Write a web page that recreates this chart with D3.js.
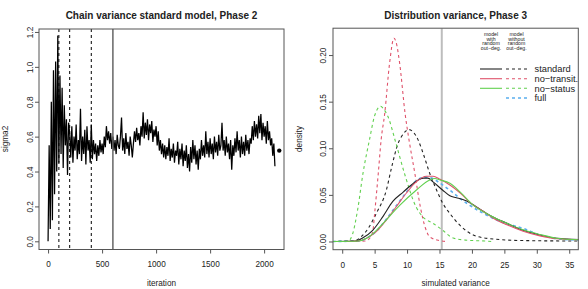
<!DOCTYPE html>
<html>
<head>
<meta charset="utf-8">
<script src="https://cdn.jsdelivr.net/npm/d3@7"></script>
<style>
  html, body { margin: 0; padding: 0; background: #fff; }
  svg { display: block; }
  text { font-family: "Liberation Sans", Arial, Helvetica, sans-serif; fill: #222; }
</style>
</head>
<body>
<svg id="chart" width="588" height="289"></svg>
<script>
// ---------------- DATA ----------------
// Left panel: chain of sigma2 values, one value every 10 iterations (0..2100)
const chainStep = 10;
const chainValues = [
  0.00, 0.55, 0.07, 0.80, 0.12, 0.98, 0.27, 1.03, 0.40, 1.18,
  0.45, 0.95, 0.50, 0.88, 0.42, 0.78, 0.55, 0.70, 0.38, 0.68,
  0.62, 0.48, 0.66, 0.45, 0.60, 0.52, 0.67, 0.47, 0.58, 0.50,
  0.76, 0.46, 0.60, 0.50, 0.64, 0.44, 0.66, 0.52, 0.58, 0.45,
  0.67, 0.47, 0.58, 0.50, 0.56, 0.46, 0.55, 0.49, 0.58, 0.51,
  0.56, 0.50, 0.60, 0.54, 0.66, 0.58, 0.63, 0.56, 0.62, 0.53,
  0.60, 0.52, 0.58, 0.50, 0.61, 0.55, 0.53, 0.60, 0.71, 0.52,
  0.59, 0.50, 0.62, 0.53, 0.57, 0.49, 0.60, 0.55, 0.48, 0.56,
  0.63, 0.57, 0.65, 0.58, 0.62, 0.55, 0.66, 0.60, 0.74, 0.59,
  0.68, 0.61, 0.70, 0.58, 0.67, 0.62, 0.69, 0.57, 0.64, 0.60,
  0.66, 0.55, 0.63, 0.52, 0.58, 0.50, 0.56, 0.48, 0.55, 0.47,
  0.54, 0.49, 0.59, 0.46, 0.53, 0.48, 0.56, 0.45, 0.52, 0.49,
  0.57, 0.44, 0.53, 0.47, 0.56, 0.43, 0.52, 0.46, 0.55, 0.42,
  0.50, 0.40, 0.54, 0.45, 0.58, 0.47, 0.55, 0.44, 0.52, 0.41,
  0.53, 0.47, 0.58, 0.49, 0.55, 0.48, 0.63, 0.50, 0.57, 0.48,
  0.59, 0.50, 0.56, 0.47, 0.60, 0.51, 0.57, 0.49, 0.61, 0.52,
  0.55, 0.68, 0.52, 0.58, 0.49, 0.60, 0.51, 0.56, 0.47, 0.58,
  0.41, 0.55, 0.49, 0.59, 0.51, 0.63, 0.52, 0.58, 0.48, 0.60,
  0.50, 0.57, 0.49, 0.61, 0.52, 0.58, 0.50, 0.59, 0.56, 0.66,
  0.58, 0.69, 0.60, 0.67, 0.59, 0.72, 0.62, 0.73, 0.58, 0.68,
  0.60, 0.66, 0.56, 0.69, 0.58, 0.63, 0.55, 0.59, 0.49, 0.56,
  0.43
];
const chainFinalPoint = [2140, 0.52];
const phaseDashedLines = [100, 200, 400];
const phaseSolidLine = 600;
const chainXTicks = [0, 500, 1000, 1500, 2000];
const chainYTicks = [0.0, 0.2, 0.4, 0.6, 0.8, 1.0, 1.2];

// Right panel: density curves [simulated variance, density]
const stdRandom = [[-1.5,0],[2,0.0005],[3.2,0.004],[4.7,0.012],[6.3,0.027],[7.8,0.043],[9.4,0.053],[10.9,0.062],[12.5,0.068],[13.2,0.068],[14.0,0.064],[15.5,0.055],[16.6,0.049],[17.6,0.047],[18.6,0.045],[19.2,0.0435],[20.7,0.037],[22.8,0.028],[25.4,0.0195],[27.9,0.012],[30.5,0.007],[33.1,0.0034],[36.5,0.0022]];
const noTransRandom = [[-1.5,0],[2.5,0.0005],[3.6,0.003],[5.25,0.0105],[6.8,0.023],[8.3,0.037],[9.9,0.052],[11.4,0.064],[13.0,0.070],[14.0,0.070],[15.1,0.0667],[16.6,0.0606],[18.2,0.052],[20.2,0.039],[21.8,0.032],[23.3,0.025],[25.4,0.018],[27.9,0.011],[30.5,0.006],[33.1,0.003],[36.5,0.002]];
const noStatusRandom = [[-1.5,0],[2.5,0.0005],[3.9,0.004],[5.0,0.010],[6.3,0.0195],[8.9,0.039],[11.4,0.055],[13.5,0.066],[14.3,0.0675],[15.1,0.066],[16.6,0.0624],[18.2,0.053],[20.2,0.039],[22.8,0.028],[25.4,0.0195],[27.9,0.0125],[30.5,0.0075],[33.1,0.0035],[36.5,0.0018]];
const stdFixed = [[-1.5,0],[2,0.001],[2.9,0.005],[4.0,0.014],[5.25,0.030],[6.8,0.055],[7.7,0.082],[8.6,0.105],[9.1,0.112],[10.3,0.120],[11.0,0.117],[11.7,0.109],[12.6,0.092],[13.5,0.073],[14.5,0.056],[15.5,0.041],[16.6,0.030],[18.2,0.017],[20.2,0.007],[22.8,0.003],[27.9,0.001],[36.5,0.0005]];
const noTransFixed = [[-1.5,0],[3.5,0.0005],[4.3,0.004],[4.74,0.012],[5.0,0.030],[5.56,0.073],[6.0,0.109],[6.55,0.137],[7.3,0.191],[7.98,0.218],[8.3,0.214],[8.86,0.191],[9.7,0.137],[10.3,0.109],[11.2,0.073],[12.05,0.037],[12.8,0.015],[13.5,0.005],[15.0,0.001],[16.0,0]];
const noStatusFixed = [[-1.5,0],[1.0,0.001],[1.6,0.008],[2.4,0.035],[3.2,0.073],[4.2,0.109],[5.0,0.135],[5.93,0.145],[6.4,0.142],[7.05,0.134],[8.3,0.105],[9.6,0.073],[11.4,0.037],[12.5,0.026],[14.0,0.0195],[15.5,0.012],[17.0,0.004],[19.0,0.0015],[22.0,0.0005],[23.0,0]];
const fullFixed = [[-1.5,0],[2.5,0.0005],[3.6,0.003],[5.25,0.011],[6.8,0.024],[8.3,0.038],[9.9,0.053],[11.4,0.065],[12.8,0.069],[13.8,0.068],[15.1,0.0624],[16.6,0.055],[18.2,0.046],[19.2,0.041],[21.8,0.030],[24.5,0.021],[27.9,0.014],[30.5,0.007],[33.1,0.003],[36.5,0.0015]];
const referenceValue = 15.35;
const densXTicks = [0, 5, 10, 15, 20, 25, 30, 35];
const densYTicks = [0.00, 0.05, 0.10, 0.15, 0.20];
const legendLabels = ["standard", "no\u2212transit.", "no\u2212status", "full"];
const legendHeaders = [["model","with","random","out\u2212deg."], ["model","without","random","out\u2212deg."]];

// ---------------- STYLE ----------------
const colBlack = "#222222", colRed = "#DF536B", colGreen = "#61D04F", colBlue = "#5aaeee";
const svg = d3.select("#chart");

function panel(box, xDomain, yDomain) {
  const x = d3.scaleLinear().domain(xDomain).range([box.x0, box.x1]);
  const y = d3.scaleLinear().domain(yDomain).range([box.y1, box.y0]);
  return {x, y};
}

// ---------------- LEFT PANEL ----------------
const L = {x0: 39, x1: 284, y0: 29, y1: 249.5};
const Ls = panel(L, [-84, 2184], [-0.047, 1.217]);

const gL = svg.append("g");
gL.append("path")
  .datum(chainValues)
  .attr("fill", "none").attr("stroke", "#000").attr("stroke-width", 1.25)
  .attr("stroke-linejoin", "miter")
  .attr("d", d3.line().x((d, i) => Ls.x(i * chainStep)).y(d => Ls.y(d)));

gL.selectAll("line.dash").data(phaseDashedLines).join("line")
  .attr("x1", d => Ls.x(d)).attr("x2", d => Ls.x(d))
  .attr("y1", L.y0).attr("y2", L.y1)
  .attr("stroke", "#000").attr("stroke-width", 1).attr("stroke-dasharray", "3,3");
gL.append("line")
  .attr("x1", Ls.x(phaseSolidLine)).attr("x2", Ls.x(phaseSolidLine))
  .attr("y1", L.y0).attr("y2", L.y1)
  .attr("stroke", "#666").attr("stroke-width", 1.5);
gL.append("circle")
  .attr("cx", Ls.x(chainFinalPoint[0])).attr("cy", Ls.y(chainFinalPoint[1]))
  .attr("r", 2.2).attr("fill", "#000");

// ---------------- RIGHT PANEL ----------------
const R = {x0: 333, x1: 578.3, y0: 28.2, y1: 249.7};
const Rs = panel(R, [-1.42, 36.4], [-0.0088, 0.2288]);

svg.append("defs").append("clipPath").attr("id", "clipR")
  .append("rect").attr("x", R.x0).attr("y", R.y0).attr("width", R.x1 - R.x0).attr("height", R.y1 - R.y0);

const gR = svg.append("g").attr("clip-path", "url(#clipR)");
const dline = d3.line().x(d => Rs.x(d[0])).y(d => Rs.y(d[1])).curve(d3.curveMonotoneX);

gR.append("line")
  .attr("x1", Rs.x(referenceValue)).attr("x2", Rs.x(referenceValue))
  .attr("y1", R.y0).attr("y2", R.y1)
  .attr("stroke", "#bdbdbd").attr("stroke-width", 2);

const curves = [
  {data: stdFixed, color: colBlack, dash: "3,3", w: 1.1},
  {data: noTransFixed, color: colRed, dash: "3,3", w: 1.1},
  {data: noStatusFixed, color: colGreen, dash: "3,3", w: 1.1},
  {data: fullFixed, color: colBlue, dash: "3,3", w: 1.6},
  {data: stdRandom, color: colBlack, dash: null, w: 1.1},
  {data: noTransRandom, color: colRed, dash: null, w: 1.1},
  {data: noStatusRandom, color: colGreen, dash: null, w: 1.1}
];
gR.selectAll("path.curve").data(curves).join("path")
  .attr("class", "curve")
  .attr("fill", "none")
  .attr("stroke", d => d.color)
  .attr("stroke-width", d => d.w)
  .attr("stroke-dasharray", d => d.dash)
  .attr("d", d => dline(d.data));

// Legend
const legendRowY = [69, 78.7, 88.3, 98];
const legendColors = [colBlack, colRed, colGreen, colBlue];
const legG = svg.append("g");
legendHeaders.forEach((lines, c) => {
  const cx = c === 0 ? 491 : 516.5;
  lines.forEach((t, i) => {
    legG.append("text").attr("x", cx).attr("y", 36 + i * 4.5)
      .attr("text-anchor", "middle").attr("font-size", 5.2).attr("fill", "#333").text(t);
  });
});
legendLabels.forEach((lab, i) => {
  if (i < 3) {
    legG.append("line").attr("x1", 480).attr("x2", 502).attr("y1", legendRowY[i]).attr("y2", legendRowY[i])
      .attr("stroke", legendColors[i]).attr("stroke-width", 1.1);
  }
  legG.append("line").attr("x1", 506).attr("x2", 527).attr("y1", legendRowY[i]).attr("y2", legendRowY[i])
    .attr("stroke", legendColors[i]).attr("stroke-width", i === 3 ? 1.6 : 1.1).attr("stroke-dasharray", "3,3");
  legG.append("text").attr("x", 534.5).attr("y", legendRowY[i]).attr("dy", "0.35em")
    .attr("font-size", 9.3).attr("fill", "#222").text(lab);
});

// ---------------- AXES, BOXES, TITLES ----------------
function drawFrame(box, s, xTicks, yTicks, yFmt, title, xlab, ylab, ylabX, yLabBase) {
  const g = svg.append("g");
  g.append("rect").attr("x", box.x0).attr("y", box.y0)
    .attr("width", box.x1 - box.x0).attr("height", box.y1 - box.y0)
    .attr("fill", "none").attr("stroke", "#555").attr("stroke-width", 1);
  const ax = g.append("g").attr("transform", `translate(0,${box.y1})`)
    .call(d3.axisBottom(s.x).tickValues(xTicks).tickSize(4).tickPadding(8).tickFormat(d3.format("d")));
  ax.select(".domain").remove();
  ax.selectAll(".tick line").attr("stroke", "#555");
  ax.selectAll("text").attr("font-size", 8.2).attr("font-family", null).attr("fill", "#222");
  const ay = g.append("g").attr("transform", `translate(${box.x0},0)`)
    .call(d3.axisLeft(s.y).tickValues(yTicks).tickSize(4).tickFormat(yFmt));
  ay.select(".domain").remove();
  ay.selectAll(".tick line").attr("stroke", "#555");
  ay.selectAll(".tick text").remove();
  ay.selectAll(".tick").append("text")
    .attr("transform", `translate(${yLabBase - box.x0},0) rotate(-90)`)
    .attr("text-anchor", "middle").attr("font-size", 8.2).attr("fill", "#222")
    .attr("font-family", null)
    .text(d => yFmt(d));
  g.append("text").attr("x", (box.x0 + box.x1) / 2).attr("y", 19)
    .attr("text-anchor", "middle").attr("font-size", 10).attr("font-weight", "bold").attr("fill", "#000").text(title);
  g.append("text").attr("x", (box.x0 + box.x1) / 2).attr("y", 286)
    .attr("text-anchor", "middle").attr("font-size", 8.2).text(xlab);
  g.append("text").attr("transform", `translate(${ylabX},139) rotate(-90)`)
    .attr("text-anchor", "middle").attr("font-size", 8.2).text(ylab);
}

drawFrame(L, Ls, chainXTicks, chainYTicks, d3.format(".1f"),
  "Chain variance standard model, Phase 2", "iteration", "sigma2", 8, 33.3);
drawFrame(R, Rs, densXTicks, densYTicks, d3.format(".2f"),
  "Distribution variance, Phase 3", "simulated variance", "density", 302, 325.7);
</script>
</body>
</html>
